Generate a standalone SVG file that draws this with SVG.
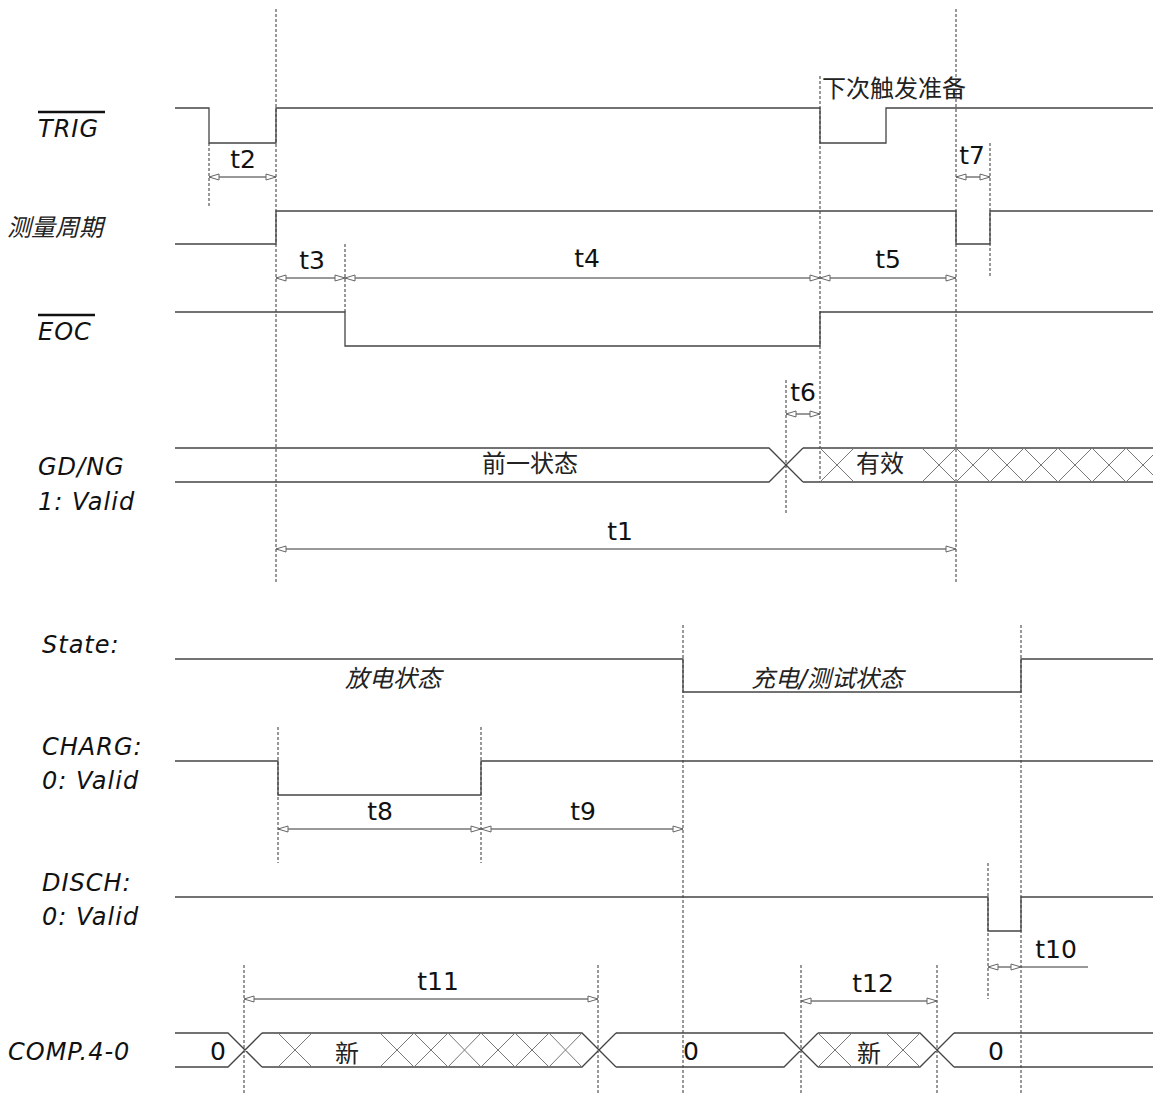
<svg xmlns="http://www.w3.org/2000/svg" width="1153" height="1093" viewBox="0 0 1153 1093">
<defs>
<marker id="ah" markerUnits="userSpaceOnUse" markerWidth="12" markerHeight="8" refX="11" refY="4" orient="auto-start-reverse">
<path d="M1,1 L11,4 L1,7 Z" fill="#fff" stroke="#666" stroke-width="1"/>
</marker>
</defs>
<style>
.sig{fill:none;stroke:#444;stroke-width:1.3}
.bus{fill:none;stroke:#444;stroke-width:1.3}
.hx{fill:none;stroke:#777;stroke-width:1}
.guide{fill:none;stroke:#333;stroke-width:1;stroke-dasharray:3,2}
.dim{fill:none;stroke:#333;stroke-width:1;marker-start:url(#ah);marker-end:url(#ah)}
.lead{fill:none;stroke:#333;stroke-width:1}
.lbl{font-family:"DejaVu Sans",Verdana,sans-serif;font-style:italic;font-size:24px;letter-spacing:1px;fill:#111}
.tl{font-family:"DejaVu Sans",Verdana,sans-serif;font-size:25px;fill:#111;text-anchor:middle}
.cj{font-family:"Noto Sans CJK SC",sans-serif;font-size:24px;fill:#222}
.cji{font-family:"DejaVu Sans","Noto Sans CJK SC",sans-serif;font-style:italic;font-size:24px;fill:#222}
.ov{stroke:#111;stroke-width:2.5}
</style>

<g id="labels">
<text class="lbl" x="38" y="137">TRIG</text>
<line class="ov" x1="38" y1="112" x2="105" y2="112"/>
<text class="cji" x="7" y="236">测量周期</text>
<text class="lbl" x="38" y="340">EOC</text>
<line class="ov" x1="38" y1="315" x2="95" y2="315"/>
<text class="lbl" x="38" y="475">GD/NG</text>
<text class="lbl" x="38" y="510">1: Valid</text>
<text class="lbl" x="42" y="653">State:</text>
<text class="lbl" x="42" y="755">CHARG:</text>
<text class="lbl" x="42" y="789">0: Valid</text>
<text class="lbl" x="42" y="891">DISCH:</text>
<text class="lbl" x="42" y="925">0: Valid</text>
<text class="lbl" x="8" y="1060" letter-spacing="2">COMP.4-0</text>
</g>

<g id="guides">
<line class="guide" x1="209" y1="143" x2="209" y2="208"/>
<line class="guide" x1="276" y1="9" x2="276" y2="583"/>
<line class="guide" x1="345" y1="244" x2="345" y2="312"/>
<line class="guide" x1="820" y1="76" x2="820" y2="482"/>
<line class="guide" x1="956" y1="9" x2="956" y2="583"/>
<line class="guide" x1="990" y1="143" x2="990" y2="276"/>
<line class="guide" x1="786" y1="380" x2="786" y2="513"/>
<line class="guide" x1="683" y1="625" x2="683" y2="1093"/>
<line class="guide" x1="1021" y1="625" x2="1021" y2="1093"/>
<line class="guide" x1="278" y1="727" x2="278" y2="863"/>
<line class="guide" x1="481" y1="727" x2="481" y2="863"/>
<line class="guide" x1="988" y1="863" x2="988" y2="999"/>
<line class="guide" x1="244" y1="965" x2="244" y2="1093"/>
<line class="guide" x1="598" y1="965" x2="598" y2="1093"/>
<line class="guide" x1="801" y1="965" x2="801" y2="1093"/>
<line class="guide" x1="937" y1="965" x2="937" y2="1093"/>
</g>

<g id="trig">
<path class="sig" d="M175,108 H209 V143 H276 V108 H820 V143 H886 V108 H1153"/>
<text class="cj" x="822" y="97">下次触发准备</text>
</g>

<g id="cycle">
<path class="sig" d="M175,244 H276 V211 H956 V244 H990 V211 H1153"/>
</g>

<g id="eoc">
<path class="sig" d="M175,312 H345 V346 H820 V312 H1153"/>
</g>

<g id="gdng">
<path class="bus" d="M175,448 H769 L803,482 M175,482 H769 L803,448 M803,448 H1153 M803,482 H1153"/>
<path class="hx" d="M820,448 L854,482 M820,482 L854,448
M922,448 L956,482 M922,482 L956,448
M956,448 L990,482 M956,482 L990,448
M990,448 L1024,482 M990,482 L1024,448
M1024,448 L1058,482 M1024,482 L1058,448
M1058,448 L1092,482 M1058,482 L1092,448
M1092,448 L1126,482 M1092,482 L1126,448
M1126,448 L1153,475 M1126,482 L1153,455"/>
<text class="cj" x="530" y="472" text-anchor="middle">前一状态</text>
<text class="cj" x="880" y="472" text-anchor="middle">有效</text>
</g>

<g id="state">
<path class="sig" d="M175,659 H683 V692 H1021 V659 H1153"/>
<text class="cji" x="345" y="687">放电状态</text>
<text class="cji" x="751" y="687">充电/测试状态</text>
</g>

<g id="charg">
<path class="sig" d="M175,761 H278 V795 H481 V761 H1153"/>
</g>

<g id="disch">
<path class="sig" d="M175,897 H988 V931 H1021 V897 H1153"/>
</g>

<g id="comp">
<path class="bus" d="M175,1033 H228 L262,1067 M175,1067 H228 L262,1033
M262,1033 H582 L616,1067 M262,1067 H582 L616,1033
M616,1033 H784 L818,1067 M616,1067 H784 L818,1033
M818,1033 H920 L954,1067 M818,1067 H920 L954,1033
M954,1033 H1153 M954,1067 H1153"/>
<path class="hx" d="M278,1033 L312,1067 M278,1067 L312,1033
M380,1033 L414,1067 M380,1067 L414,1033
M414,1033 L448,1067 M414,1067 L448,1033
M448,1033 L481,1067 M448,1067 L481,1033
M481,1033 L515,1067 M481,1067 L515,1033
M515,1033 L549,1067 M515,1067 L549,1033
M549,1033 L582,1067 M549,1067 L582,1033
M818,1033 L852,1067 M818,1067 L852,1033
M886,1033 L920,1067 M886,1067 L920,1033"/>
<text class="tl" x="218" y="1060">0</text>
<text class="tl" x="691" y="1060">0</text>
<text class="tl" x="996" y="1060">0</text>
<text class="cj" x="347" y="1062" text-anchor="middle">新</text>
<text class="cj" x="869" y="1062" text-anchor="middle">新</text>
</g>

<g id="connectors">
<line class="dim" x1="209" y1="177" x2="276" y2="177"/>
<line class="dim" x1="956" y1="177" x2="990" y2="177"/>
<line class="dim" x1="276" y1="278" x2="345" y2="278"/>
<line class="dim" x1="345" y1="278" x2="820" y2="278"/>
<line class="dim" x1="820" y1="278" x2="956" y2="278"/>
<line class="dim" x1="786" y1="414" x2="820" y2="414"/>
<line class="dim" x1="276" y1="549" x2="956" y2="549"/>
<line class="dim" x1="278" y1="829" x2="481" y2="829"/>
<line class="dim" x1="481" y1="829" x2="683" y2="829"/>
<line class="dim" x1="988" y1="967" x2="1021" y2="967"/>
<line class="lead" x1="1021" y1="967" x2="1088" y2="967"/>
<line class="dim" x1="244" y1="999" x2="598" y2="999"/>
<line class="dim" x1="801" y1="1001" x2="937" y2="1001"/>
</g>

<g id="timing-labels">
<text class="tl" x="243" y="168">t2</text>
<text class="tl" x="972" y="164">t7</text>
<text class="tl" x="312" y="269">t3</text>
<text class="tl" x="587" y="267">t4</text>
<text class="tl" x="888" y="268">t5</text>
<text class="tl" x="803" y="401">t6</text>
<text class="tl" x="620" y="540">t1</text>
<text class="tl" x="380" y="820">t8</text>
<text class="tl" x="583" y="820">t9</text>
<text class="tl" x="1056" y="958">t10</text>
<text class="tl" x="438" y="990">t11</text>
<text class="tl" x="873" y="992">t12</text>
</g>
</svg>
